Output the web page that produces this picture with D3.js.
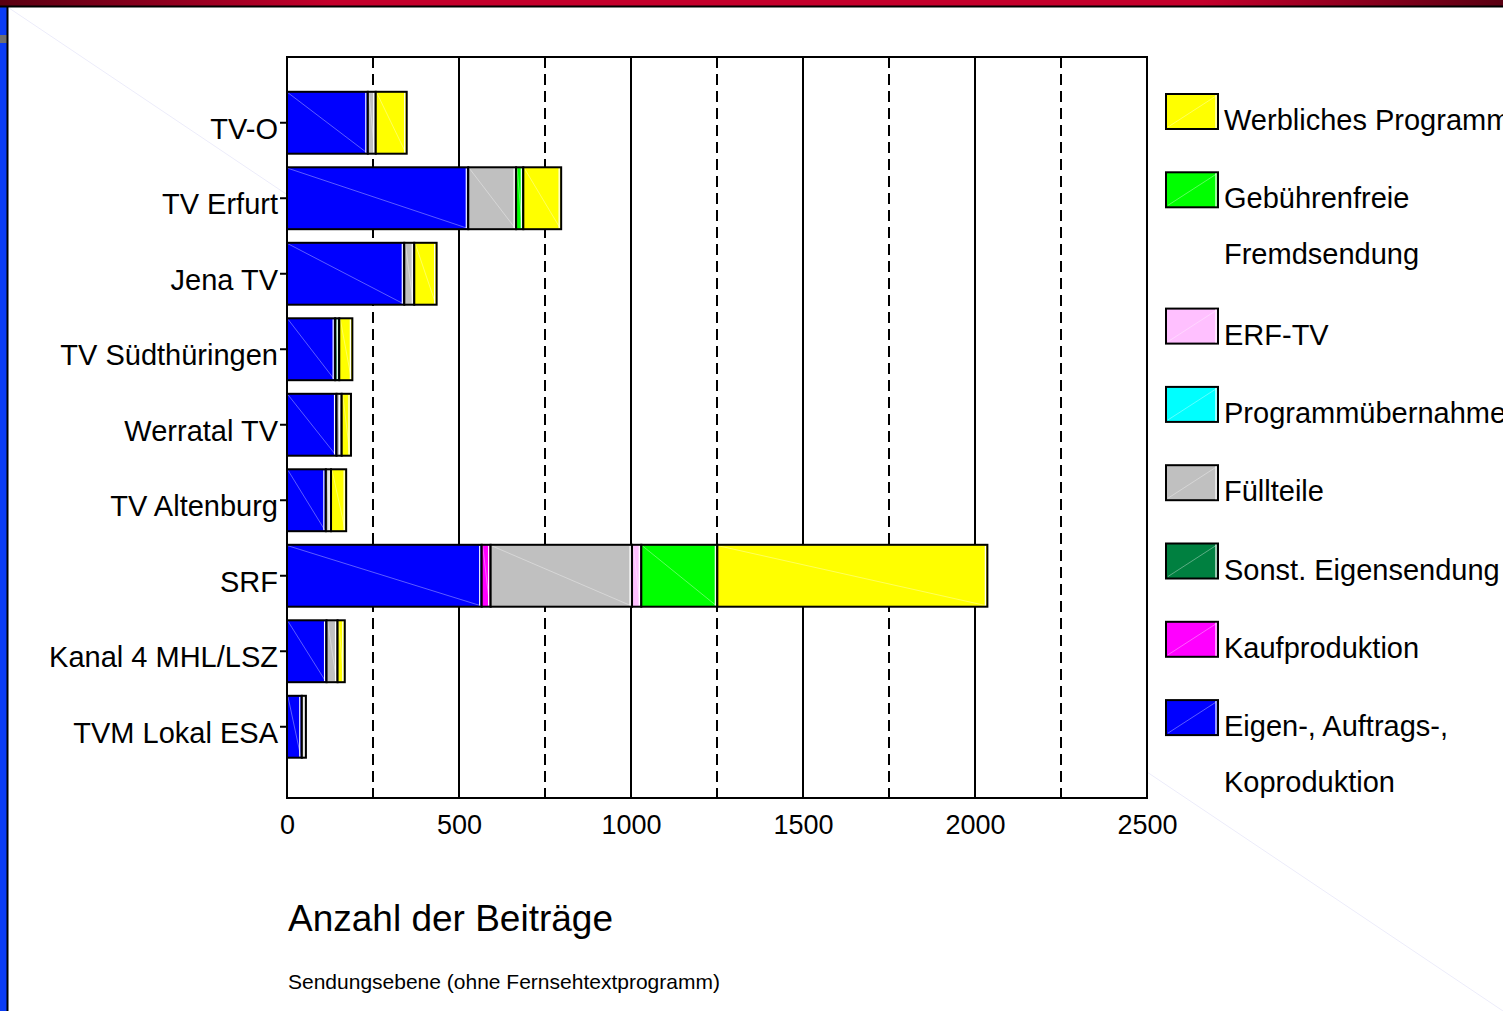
<!DOCTYPE html>
<html>
<head>
<meta charset="utf-8">
<script src="https://cdn.jsdelivr.net/npm/d3@7"></script>
<style>
    body { margin: 0; background: #fff; overflow: hidden; }
    svg { display: block; font-family: "Liberation Sans", Arial, sans-serif; }
</style>
</head>
<body>
<div id="chart"></div>
<script>

// Sender (top to bottom)
var senders = ["TV-O", "TV Erfurt", "Jena TV", "TV Südthüringen", "Werratal TV",
    "TV Altenburg", "SRF", "Kanal 4 MHL/LSZ", "TVM Lokal ESA"];

// one list per series, same order as senders
var eigenproduktion   = [235, 527, 341, 140, 144, 113, 566, 115, 43];
var kaufproduktion    = [0, 0, 0, 0, 0, 0, 26, 0, 0];
var sonstEigen        = [0, 0, 0, 12, 0, 0, 0, 0, 0];
var fuellteile        = [23, 139, 29, 0, 15, 15, 411, 32, 12];
var uebernahme        = [0, 0, 0, 0, 0, 0, 0, 0, 0];
var erfTv             = [0, 0, 0, 0, 0, 0, 27, 0, 0];
var gebuehrenfrei     = [0, 21, 0, 0, 0, 0, 221, 0, 0];
var werblich          = [90, 110, 65, 38, 27, 44, 785, 21, 0];

// stack order left -> right
var seriesKeys = ["eigen", "kauf", "sonst", "fuell", "uebernahme", "erf", "gebuehr", "werb"];
var seriesValues = [eigenproduktion, kaufproduktion, sonstEigen, fuellteile, uebernahme, erfTv, gebuehrenfrei, werblich];
var seriesColors = ["#0000ff", "#ff00ff", "#008040", "#c0c0c0", "#00ffff", "#ffc0ff", "#00ff00", "#ffff00"];
var seriesLabels = [["Eigen-, Auftrags-,", "Koproduktion"], ["Kaufproduktion"], ["Sonst. Eigensendung"],
    ["Füllteile"], ["Programmübernahme"], ["ERF-TV"], ["Gebührenfreie", "Fremdsendung"], ["Werbliches Programm"]];

// axis ticks
var xTicks = [0, 500, 1000, 1500, 2000, 2500];
var xDashed = [250, 750, 1250, 1750, 2250];

var titleText = "Anzahl der Beiträge";
var noteText = "Sendungsebene (ohne Fernsehtextprogramm)";


BarChart = function(_parentElement){
    this.parentElement = _parentElement;
    this.initVis();
}

BarChart.prototype.initVis = function(){
    var vis = this;

    vis.width = 1503;
    vis.height = 1011;
    vis.plot = {left: 287, right: 1147, top: 57, bottom: 798};

    vis.svg = d3.select("#" + vis.parentElement).append("svg")
        .attr("width", vis.width)
        .attr("height", vis.height);

    // slide decoration: red bar on top, blue strip left
    var grad = vis.svg.append("defs").append("linearGradient")
        .attr("id", "topbar");
    [[0, "#5a0012"], [0.22, "#c4002c"], [0.8, "#c4002c"], [1, "#5a0012"]].forEach(function(s){
        grad.append("stop").attr("offset", s[0]).attr("stop-color", s[1]);
    });
    vis.svg.append("line").attr("x1", 9).attr("y1", 8).attr("x2", vis.width).attr("y2", vis.height)
        .attr("stroke", "#ececfa").attr("stroke-width", 1);
    vis.svg.append("rect").attr("x", 0).attr("y", 0).attr("width", vis.width).attr("height", 6)
        .attr("fill", "url(#topbar)");
    vis.svg.append("rect").attr("x", 0).attr("y", 6).attr("width", 7).attr("height", vis.height)
        .attr("fill", "#0a3cf5");
    vis.svg.append("rect").attr("x", 0).attr("y", 35).attr("width", 7).attr("height", 8)
        .attr("fill", "#707070");
    vis.svg.append("line").attr("x1", 0).attr("x2", vis.width).attr("y1", 6.5).attr("y2", 6.5)
        .attr("stroke", "#000").attr("stroke-width", 2);
    vis.svg.append("line").attr("x1", 7.5).attr("x2", 7.5).attr("y1", 6).attr("y2", vis.height)
        .attr("stroke", "#000").attr("stroke-width", 2);

    // white chart area hides the faint slide line
    vis.svg.append("rect")
        .attr("x", vis.plot.left).attr("y", vis.plot.top)
        .attr("width", vis.plot.right - vis.plot.left).attr("height", vis.plot.bottom - vis.plot.top)
        .attr("fill", "#fff");

    vis.x = d3.scaleLinear()
        .domain([0, 2500])
        .range([vis.plot.left, vis.plot.right]);

    vis.y = d3.scaleBand()
        .domain(senders)
        .range([85, 764.5])
        .paddingInner(0.18)
        .paddingOuter(0.09);

    vis.stacked = d3.stack().keys(seriesKeys);

    vis.wrangleData();
}

BarChart.prototype.wrangleData = function(){
    var vis = this;

    vis.displayData = senders.map(function(s, i){
        var row = {sender: s};
        seriesKeys.forEach(function(k, j){ row[k] = seriesValues[j][i]; });
        return row;
    });
    vis.stackedSeries = vis.stacked(vis.displayData);

    vis.updateVis();
}

BarChart.prototype.updateVis = function(){
    var vis = this;
    var p = vis.plot;

    // grid lines
    vis.svg.selectAll(".grid-solid")
        .data(xTicks.slice(1, -1))
        .enter().append("line")
        .attr("class", "grid-solid")
        .attr("x1", function(d){ return vis.x(d); })
        .attr("x2", function(d){ return vis.x(d); })
        .attr("y1", p.top).attr("y2", p.bottom)
        .attr("stroke", "#000").attr("stroke-width", 2);

    vis.svg.selectAll(".grid-dash")
        .data(xDashed)
        .enter().append("line")
        .attr("class", "grid-dash")
        .attr("x1", function(d){ return vis.x(d); })
        .attr("x2", function(d){ return vis.x(d); })
        .attr("y1", p.top).attr("y2", p.bottom)
        .attr("stroke", "#000").attr("stroke-width", 2)
        .attr("stroke-dasharray", "11,6");

    // bars
    vis.serie = vis.svg.selectAll(".serie")
        .data(vis.stackedSeries)
        .enter().append("g")
        .attr("class", "serie")
        .attr("fill", function(d, i){ return seriesColors[i]; });

    var seg = vis.serie.selectAll("g")
        .data(function(d, i){
            return d.filter(function(v){ return v[1] - v[0] > 0; })
                .map(function(v){ return {v: v, c: seriesColors[i]}; });
        })
        .enter().append("g");

    seg.append("rect")
        .attr("x", function(d){ return vis.x(d.v[0]); })
        .attr("y", function(d){ return vis.y(d.v.data.sender); })
        .attr("width", function(d){ return vis.x(d.v[1]) - vis.x(d.v[0]); })
        .attr("height", vis.y.bandwidth());

    // faint diagonal + white edge like the original
    seg.append("line")
        .attr("x1", function(d){ return vis.x(d.v[0]) + 1; })
        .attr("y1", function(d){ return vis.y(d.v.data.sender) + 1; })
        .attr("x2", function(d){ return vis.x(d.v[1]) - 1; })
        .attr("y2", function(d){ return vis.y(d.v.data.sender) + vis.y.bandwidth() - 1; })
        .attr("stroke", function(d){ return d3.interpolateRgb(d.c, "#fff")(0.45); })
        .attr("stroke-width", 0.8);

    seg.append("line")
        .attr("x1", function(d){ return vis.x(d.v[1]) - 2; })
        .attr("x2", function(d){ return vis.x(d.v[1]) - 2; })
        .attr("y1", function(d){ return vis.y(d.v.data.sender) + 1; })
        .attr("y2", function(d){ return vis.y(d.v.data.sender) + vis.y.bandwidth() - 1; })
        .attr("stroke", "#fff").attr("stroke-width", 1.2);

    seg.append("rect")
        .attr("x", function(d){ return vis.x(d.v[0]); })
        .attr("y", function(d){ return vis.y(d.v.data.sender); })
        .attr("width", function(d){ return vis.x(d.v[1]) - vis.x(d.v[0]); })
        .attr("height", vis.y.bandwidth())
        .attr("fill", "none")
        .attr("stroke", "#000")
        .attr("stroke-width", 2);

    // frame
    vis.svg.append("rect")
        .attr("x", p.left).attr("y", p.top)
        .attr("width", p.right - p.left).attr("height", p.bottom - p.top)
        .attr("fill", "none").attr("stroke", "#000").attr("stroke-width", 2);

    // axes
    var yAxis = vis.svg.append("g")
        .attr("transform", "translate(" + p.left + ",0)")
        .call(d3.axisLeft(vis.y).tickSize(7).tickSizeOuter(0).tickPadding(2));
    yAxis.select(".domain").remove();
    yAxis.selectAll("line").attr("stroke", "#000").attr("stroke-width", 2);
    yAxis.selectAll("text")
        .attr("fill", "#000")
        .attr("dy", "0.55em")
        .style("font-size", "29px")
        .style("font-family", "Liberation Sans, Arial, sans-serif");

    var xAxis = vis.svg.append("g")
        .attr("transform", "translate(0," + p.bottom + ")")
        .call(d3.axisBottom(vis.x).tickValues(xTicks).tickFormat(d3.format("d")).tickSize(0).tickPadding(17));
    xAxis.select(".domain").remove();
    xAxis.selectAll("text")
        .attr("fill", "#000")
        .style("font-size", "27px")
        .style("font-family", "Liberation Sans, Arial, sans-serif");

    // legend (top item = last series)
    var legendOrder = d3.range(seriesKeys.length).reverse();
    var top = 94;
    legendOrder.forEach(function(si, n){
        var g = vis.svg.append("g")
            .attr("transform", "translate(1166," + top + ")");
        g.append("rect").attr("width", 52).attr("height", 35)
            .attr("fill", seriesColors[si]).attr("stroke", "#000").attr("stroke-width", 2);
        g.append("line").attr("x1", 2).attr("y1", 33).attr("x2", 50).attr("y2", 2)
            .attr("stroke", d3.interpolateRgb(seriesColors[si], "#fff")(0.45)).attr("stroke-width", 0.8);
        g.append("line").attr("x1", 50).attr("x2", 50).attr("y1", 1).attr("y2", 34)
            .attr("stroke", "#fff").attr("stroke-width", 1.2);
        seriesLabels[si].forEach(function(t, k){
            g.append("text")
                .attr("x", 58)
                .attr("y", 36 + k * 56)
                .style("font-size", "29px")
                .text(t);
        });
        top += 78.3 + (seriesLabels[si].length - 1) * 58;
    });

    // titles below the chart
    vis.svg.append("text")
        .attr("x", 288).attr("y", 931)
        .style("font-size", "37px")
        .text(titleText);

    vis.svg.append("text")
        .attr("x", 288).attr("y", 989)
        .style("font-size", "21px")
        .text(noteText);
}

var chart = new BarChart("chart");

</script>
</body>
</html>
